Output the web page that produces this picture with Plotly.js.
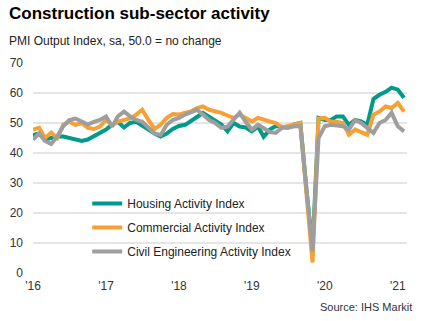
<!DOCTYPE html>
<html>
<head>
<meta charset="utf-8">
<script src="https://cdn.plot.ly/plotly-3.0.1.min.js"></script>
<style>
html,body{margin:0;padding:0;background:#fff;}
#chart{width:426px;height:321px;}
</style>
</head>
<body>
<div id="chart"></div>
<script>
// Monthly, Jan 2016 .. Feb 2021
const startYear = 2016;
const nMonths = 62;
const months = [];
for (let i = 0; i < nMonths; i++) {
  const y = startYear + Math.floor(i / 12);
  const m = (i % 12) + 1;
  months.push(y + '-' + (m < 10 ? '0' + m : m) + '-01');
}

const housing = [
  46, 46.5, 44.5, 45, 45.5, 45.5, 45, 44.5, 44, 44.5, 45.5, 46.5,
  47.8, 49.5, 50.4, 48.5, 50, 50.4, 49, 47.8, 46.5, 45.5, 46.5, 48,
  49, 49.4, 50.5, 52, 53.4, 52, 51, 49.5, 47.2, 50, 48.8, 48.5,
  47.2, 48.8, 45.4, 47.8, 49, 48.9, 48.5, 49.5, 50, 28, 8, 51.7,
  51, 51, 52.2, 52.2, 49.4, 51, 50.5, 49.4, 58, 59.4, 60.4, 61.8,
  61.1, 58.4
];
const commercial = [
  47.8, 48.4, 45, 46.8, 45, 49.4, 50.4, 49.4, 50, 48.4, 48, 48.8,
  51, 49.4, 50.5, 51, 51.5, 52.8, 54.4, 51, 48, 49.4, 51.7, 53,
  52.8, 53.4, 53.8, 55, 55.5, 54.4, 54, 53.4, 52.5, 51.7, 52.8, 51.5,
  50.5, 51.7, 51, 50.5, 50, 48.5, 49, 49.5, 50, 27, 3.5, 51.5,
  51.7, 50.4, 50.4, 50, 46.1, 47.8, 46.8, 46.1, 52.8, 53.8, 55.5, 55,
  56.7, 53.8
];
const civil = [
  44.5, 46.5, 44, 43, 45.5, 49, 51, 51.5, 50.5, 49.5, 50.4, 51,
  52.2, 48.8, 52.2, 53.8, 52.2, 51, 50.4, 48.4, 46.5, 46, 49.4, 51,
  51.7, 52.8, 53.5, 54.4, 52.8, 51, 50, 48.4, 48.8, 51, 53.4, 50.4,
  47.8, 49.4, 48.4, 47, 46.7, 48.4, 48.4, 48.9, 49, 28, 7.2, 45,
  48.9, 49.4, 49, 48.9, 47.8, 51, 50, 48.4, 46.7, 50, 51, 53.4,
  48.9, 47.2
];
const seriesNames = ['Housing Activity Index', 'Commercial Activity Index', 'Civil Engineering Activity Index'];
const seriesColors = ['#009a8a', '#f7a035', '#9e9e9e'];
const noChange = 50;

const FONT = 'Liberation Sans, Arial, sans-serif';
const series = [housing, commercial, civil];
const traces = series.map((vals, k) => ({
  type: 'scatter', mode: 'lines',
  x: months, y: vals, name: seriesNames[k],
  legendgroup: 'g' + k,
  line: {color: seriesColors[k], width: 4}
}));

const layout = {
  width: 426, height: 321,
  margin: {l: 33, r: 19, t: 63, b: 48},
  paper_bgcolor: '#fff', plot_bgcolor: '#fff',
  font: {family: FONT, size: 12, color: '#333'},
  showlegend: true,
  legend: {
    x: 0.145, xanchor: 'left', y: 0.40, yanchor: 'top',
    bgcolor: 'rgba(0,0,0,0)', traceorder: 'grouped', tracegroupgap: 5,
    font: {family: FONT, size: 12, color: '#222'}
  },
  xaxis: {
    type: 'date',
    range: ['2016-01-01', '2021-02-16'],
    tickformat: "'%y", dtick: 'M12', tick0: '2016-01-01',
    showgrid: false, zeroline: false, showline: false, ticks: '',
    ticklabelstandoff: 4,
    tickfont: {size: 12, color: '#333'}
  },
  yaxis: {
    range: [0, 70], dtick: 10, tick0: 0,
    showgrid: true, gridcolor: '#e5e5e5', gridwidth: 1.5,
    zeroline: false, showline: false, ticks: '',
    ticklabelstandoff: 9,
    tickfont: {size: 12, color: '#333'}
  },
  shapes: [{
    type: 'line', xref: 'paper', x0: 0, x1: 1, yref: 'y', y0: noChange, y1: noChange,
    line: {color: '#000', width: 1.5}, layer: 'below'
  }],
  annotations: [
    {text: '<b>Construction sub-sector activity</b>', xref: 'paper', yref: 'paper',
     x: -0.07, y: 1.235, xanchor: 'left', yanchor: 'middle', showarrow: false,
     font: {family: FONT, size: 17, color: '#000'}},
    {text: 'PMI Output Index, sa, 50.0 = no change', xref: 'paper', yref: 'paper',
     x: -0.07, y: 1.105, xanchor: 'left', yanchor: 'middle', showarrow: false,
     font: {family: FONT, size: 12, color: '#222'}},
    {text: 'Source: IHS Markit', xref: 'paper', yref: 'paper',
     x: 1.018, y: -0.163, xanchor: 'right', yanchor: 'middle', showarrow: false,
     font: {family: FONT, size: 11, color: '#333'}}
  ]
};

Plotly.newPlot('chart', traces, layout, {staticPlot: true, displayModeBar: false});
</script>
</body>
</html>
